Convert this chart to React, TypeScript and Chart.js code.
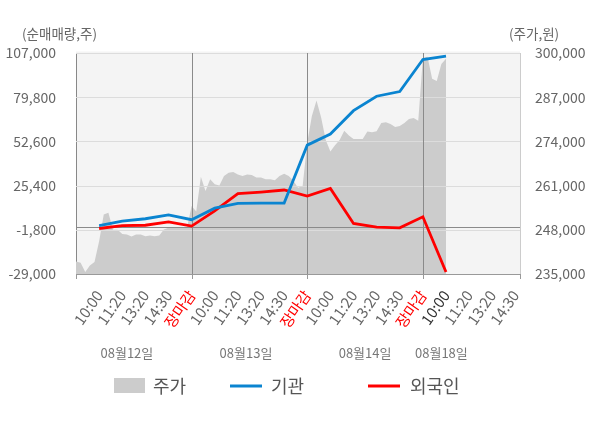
import React, { useEffect, useRef } from "react";
import { Chart, registerables } from "chart.js";

Chart.register(...registerables);

const FONT = "'Noto Sans CJK KR', 'Noto Sans', sans-serif";

const xTickLabels = ["", "10:00", "11:20", "13:20", "14:30", "장마감", "10:00", "11:20", "13:20", "14:30", "장마감", "10:00", "11:20", "13:20", "14:30", "장마감", "10:00", "11:20", "13:20", "14:30"];
const currentTickIndex = 16;
const dayBoundaryTicks = [5, 10, 15];
const dateLabels = ["08월12일", "08월13일", "08월14일", "08월18일"];
const dateLabelTicks = [2.2, 7.35, 12.5, 15.8];

const leftTicks = [-29000, -1800, 25400, 52600, 79800, 107000];
const rightTicks = [235000, 248000, 261000, 274000, 287000, 300000];

// 주가 (price) sampled every 0.2 tick units
const priceStep = 0.2;
const price = [
  // 08/12
  238700, 238300, 235600, 237500, 238500, 244600, 252500, 253000, 248000, 248000,
  246800, 246600, 246000, 246600, 246600, 246100, 246300, 246100, 246300, 248100,
  248600, 248700, 248700, 248700, 248700,
  // 08/13
  255000, 253400, 263600, 259400, 262900, 261400, 261000, 263800, 264800, 265000,
  264300, 263800, 264300, 264100, 263400, 263400, 262900, 262900, 262600, 263800,
  264500, 263800, 262400, 260400, 260900,
  // 08/14
  273700, 281500, 286000, 281000, 274400, 271000, 272900, 274400, 277100, 275700,
  274700, 274700, 274700, 276900, 276700, 277000, 279400, 279600, 279100, 278200,
  278500, 279400, 280600, 280900, 280100,
  // 08/18
  298500, 298900, 292400, 291800, 296800, 298300,
];

// 기관 / 외국인 cumulative net volume at tick positions
const flowTicks = [1, 2, 3, 4, 5, 6, 7, 8, 9, 10, 11, 12, 13, 14, 15, 16];
const institution = [800, 3500, 5000, 7400, 4400, 11500, 14400, 14600, 14700, 50300, 57100, 71500, 80400, 83300, 103000, 105100];
const foreigner = [-1000, 800, 1000, 3100, 500, 9800, 20400, 21400, 22700, 19000, 23700, 2100, -100, -600, 6200, -27800];

const BLUE = "#0a84d0";
const RED = "#ff0000";
const AREA = "#cccccc";
const TEXT = "#666666";

const fmt = (v: number) => v.toLocaleString("en-US");

const decor = {
  id: "decor",
  beforeDraw(chart: any) {
    const { ctx, chartArea: a } = chart;
    ctx.save();
    ctx.fillStyle = "#f4f4f4";
    ctx.fillRect(a.left, a.top - 1.5, a.right - a.left, a.bottom - a.top + 1.5);
    ctx.restore();
  },
  afterDatasetDraw(chart: any, args: any) {
    if (args.index !== 0) return;
    const { ctx, chartArea: a, scales } = chart;
    const y = scales.y;
    const x = scales.x;
    ctx.save();
    ctx.lineWidth = 1;
    ctx.strokeStyle = "#dcdcdc";
    leftTicks.forEach((v) => {
      if (v === leftTicks[0]) return;
      const py = Math.round(y.getPixelForValue(v)) + 0.5;
      ctx.beginPath();
      ctx.moveTo(a.left, py);
      ctx.lineTo(a.right, py);
      ctx.stroke();
    });
    ctx.strokeStyle = "#8a8a8a";
    const zy = Math.round(y.getPixelForValue(0)) + 0.5;
    ctx.beginPath();
    ctx.moveTo(a.left, zy);
    ctx.lineTo(a.right, zy);
    ctx.stroke();
    dayBoundaryTicks.forEach((t) => {
      const px = Math.round(x.getPixelForValue(t)) + 0.5;
      ctx.beginPath();
      ctx.moveTo(px, a.top);
      ctx.lineTo(px, a.bottom);
      ctx.stroke();
    });
    ctx.restore();
  },
  afterDraw(chart: any) {
    const { ctx, chartArea: a, scales } = chart;
    const x = scales.x;
    ctx.save();
    // tick marks under the axis
    ctx.strokeStyle = "#999999";
    ctx.lineWidth = 1;
    [x.min, ...dayBoundaryTicks, x.max].forEach((t) => {
      const px = Math.round(x.getPixelForValue(t)) + 0.5;
      ctx.beginPath();
      ctx.moveTo(px, a.bottom);
      ctx.lineTo(px, a.bottom + 5);
      ctx.stroke();
    });
    // axis titles
    ctx.fillStyle = TEXT;
    ctx.font = `13.5px ${FONT}`;
    ctx.textBaseline = "middle";
    ctx.textAlign = "left";
    ctx.fillText("(순매매량,주)", 22, 34);
    ctx.fillText("(주가,원)", 509, 34);
    // date labels
    ctx.fillStyle = "#777777";
    ctx.font = `13px ${FONT}`;
    ctx.textAlign = "center";
    dateLabels.forEach((d, i) => {
      ctx.fillText(d, x.getPixelForValue(dateLabelTicks[i]), 353);
    });
    // legend
    ctx.font = `18px ${FONT}`;
    ctx.fillStyle = AREA;
    ctx.fillRect(114, 378, 31, 15);
    ctx.fillStyle = "#555555";
    ctx.textAlign = "left";
    ctx.fillText("주가", 153, 386);
    ctx.strokeStyle = BLUE;
    ctx.lineWidth = 3;
    ctx.beginPath();
    ctx.moveTo(230, 386);
    ctx.lineTo(262, 386);
    ctx.stroke();
    ctx.fillStyle = "#555555";
    ctx.fillText("기관", 271, 386);
    ctx.strokeStyle = RED;
    ctx.beginPath();
    ctx.moveTo(368, 386);
    ctx.lineTo(400, 386);
    ctx.stroke();
    ctx.fillText("외국인", 410, 386);
    ctx.restore();
  },
};

export default function App() {
  const ref = useRef<HTMLCanvasElement | null>(null);
  useEffect(() => {
    if (!ref.current) return;
    const chart = new Chart(ref.current, {
      type: "line",
      data: {
        datasets: [
          {
            label: "주가",
            data: price.map((v, i) => ({ x: i * priceStep, y: v })),
            yAxisID: "y1",
            borderWidth: 0,
            borderColor: AREA,
            backgroundColor: AREA,
            fill: "start",
            pointRadius: 0,
            tension: 0,
            order: 3,
          },
          {
            label: "기관",
            data: institution.map((v, i) => ({ x: flowTicks[i], y: v })),
            yAxisID: "y",
            borderColor: BLUE,
            borderWidth: 2.8,
            pointRadius: 0,
            fill: false,
            tension: 0,
            order: 1,
          },
          {
            label: "외국인",
            data: foreigner.map((v, i) => ({ x: flowTicks[i], y: v })),
            yAxisID: "y",
            borderColor: RED,
            borderWidth: 2.8,
            pointRadius: 0,
            fill: false,
            tension: 0,
            order: 2,
          },
        ],
      },
      options: {
        responsive: false,
        animation: false,
        layout: { padding: { top: 53, left: 0, right: 0, bottom: 0 } },
        plugins: { legend: { display: false }, tooltip: { enabled: false } },
        scales: {
          x: {
            type: "linear",
            min: 0,
            max: 19.2,
            afterBuildTicks: (s: any) => {
              s.ticks = xTickLabels.map((_, i) => ({ value: i }));
            },
            afterFit: (s: any) => {
              s.height = 154;
            },
            grid: { display: false },
            border: { display: true, color: "#999999" },
            ticks: {
              autoSkip: false,
              minRotation: 55,
              maxRotation: 55,
              padding: 5,
              font: { family: FONT, size: 15 },
              color: (c: any) =>
                xTickLabels[c.index] === "장마감" ? "#ff0000" : c.index === currentTickIndex ? "#333333" : TEXT,
              callback: (_v: any, i: number) => xTickLabels[i],
            },
          },
          y: {
            position: "left",
            min: leftTicks[0],
            max: leftTicks[leftTicks.length - 1],
            afterBuildTicks: (s: any) => {
              s.ticks = leftTicks.map((v) => ({ value: v }));
            },
            afterFit: (s: any) => {
              s.width = 76;
            },
            grid: { display: false },
            border: { display: true, color: "#888888" },
            ticks: {
              padding: 12,
              font: { family: FONT, size: 14 },
              color: TEXT,
              callback: (v: any) => fmt(Number(v)),
            },
          },
          y1: {
            position: "right",
            min: rightTicks[0],
            max: rightTicks[rightTicks.length - 1],
            afterBuildTicks: (s: any) => {
              s.ticks = rightTicks.map((v) => ({ value: v }));
            },
            afterFit: (s: any) => {
              s.width = 80;
            },
            grid: { display: false },
            border: { display: true, color: "#cccccc" },
            ticks: {
              padding: 7,
              font: { family: FONT, size: 14 },
              color: TEXT,
              callback: (v: any) => fmt(Number(v)),
            },
          },
        },
      },
      plugins: [decor],
    } as any);
    return () => chart.destroy();
  }, []);
  return (
    <div style={{ position: "absolute", left: 0, top: 0, width: 600, height: 428, background: "#fff" }}>
      <canvas ref={ref} width={600} height={428} />
    </div>
  );
}
